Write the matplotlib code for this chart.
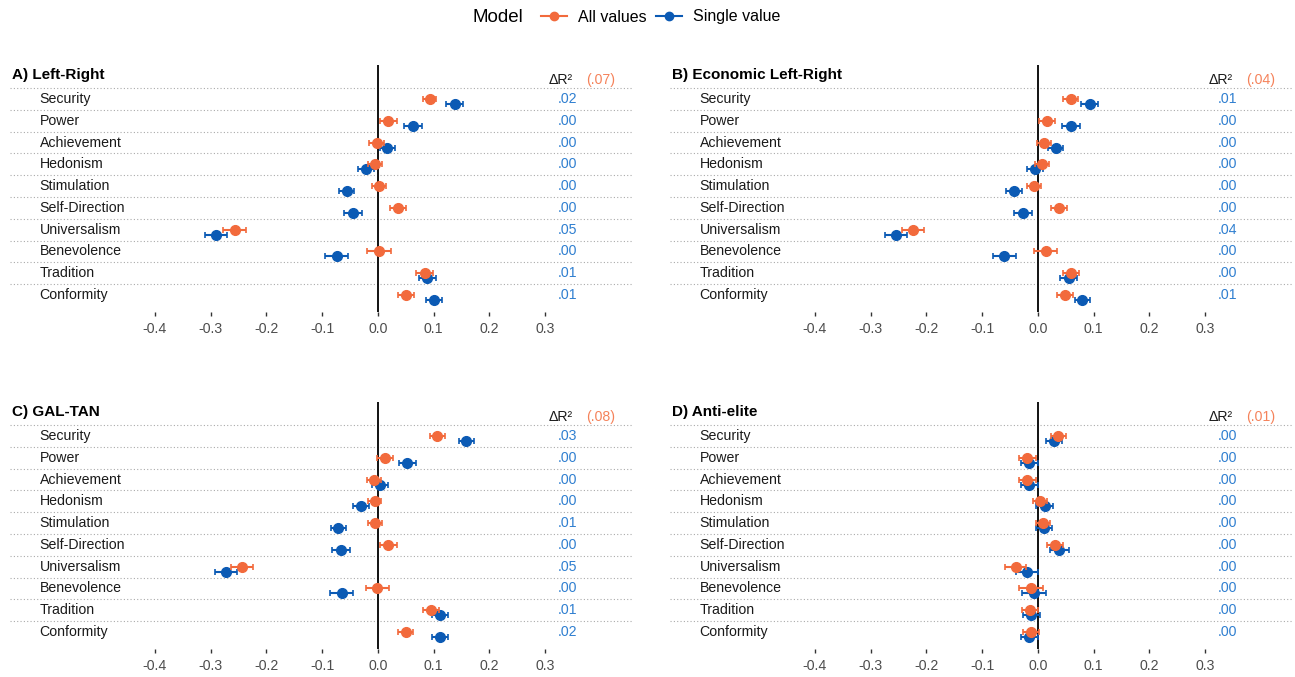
import numpy as np
import matplotlib
matplotlib.use('Agg')
import matplotlib.pyplot as plt
from matplotlib.lines import Line2D

plt.rcParams['font.family'] = ['Liberation Sans', 'DejaVu Sans']

values = ['Security', 'Power', 'Achievement', 'Hedonism', 'Stimulation',
          'Self-Direction', 'Universalism', 'Benevolence', 'Tradition', 'Conformity']

titles = ['A) Left-Right', 'B) Economic Left-Right', 'C) GAL-TAN', 'D) Anti-elite']

# coefficients, "All values" model (orange)
all_A = [0.093, 0.019, -0.002, -0.005, 0.002, 0.036, -0.257, 0.002, 0.084, 0.051]
all_B = [0.059, 0.016, 0.011, 0.007, -0.007, 0.038, -0.224, 0.014, 0.060, 0.049]
all_C = [0.107, 0.013, -0.007, -0.006, -0.005, 0.019, -0.244, -0.001, 0.095, 0.050]
all_D = [0.037, -0.019, -0.019, 0.004, 0.009, 0.031, -0.040, -0.012, -0.014, -0.012]
all_err_A = [0.012, 0.015, 0.013, 0.013, 0.013, 0.014, 0.021, 0.022, 0.015, 0.014]
all_err_B = [0.013, 0.014, 0.012, 0.013, 0.013, 0.014, 0.020, 0.021, 0.014, 0.014]
all_err_C = [0.013, 0.014, 0.013, 0.012, 0.013, 0.015, 0.020, 0.021, 0.014, 0.013]
all_err_D = [0.014, 0.015, 0.015, 0.013, 0.013, 0.015, 0.019, 0.021, 0.014, 0.014]

# coefficients, "Single value" model (blue)
single_A = [0.138, 0.063, 0.017, -0.021, -0.056, -0.045, -0.290, -0.074, 0.089, 0.101]
single_B = [0.093, 0.059, 0.032, -0.005, -0.043, -0.027, -0.255, -0.060, 0.055, 0.080]
single_C = [0.159, 0.053, 0.004, -0.030, -0.071, -0.066, -0.272, -0.065, 0.112, 0.112]
single_D = [0.029, -0.015, -0.015, 0.012, 0.011, 0.038, -0.020, -0.007, -0.012, -0.015]
single_err_A = [0.015, 0.016, 0.014, 0.014, 0.013, 0.016, 0.020, 0.020, 0.015, 0.014]
single_err_B = [0.015, 0.016, 0.014, 0.014, 0.014, 0.016, 0.020, 0.020, 0.015, 0.014]
single_err_C = [0.014, 0.015, 0.014, 0.014, 0.013, 0.016, 0.020, 0.020, 0.014, 0.014]
single_err_D = [0.015, 0.016, 0.016, 0.015, 0.014, 0.017, 0.020, 0.022, 0.015, 0.015]

# delta R2
r2_total = ['(.07)', '(.04)', '(.08)', '(.01)']
r2_A = ['.02', '.00', '.00', '.00', '.00', '.00', '.05', '.00', '.01', '.01']
r2_B = ['.01', '.00', '.00', '.00', '.00', '.00', '.04', '.00', '.00', '.01']
r2_C = ['.03', '.00', '.00', '.00', '.01', '.00', '.05', '.00', '.01', '.02']
r2_D = ['.00', '.00', '.00', '.00', '.00', '.00', '.00', '.00', '.00', '.00']

xticks = [-0.4, -0.3, -0.2, -0.1, 0.0, 0.1, 0.2, 0.3]

orange = '#F26A3C'
blue = '#0B5AB4'
blue_txt = '#2F7FD0'
orange_txt = '#F5825A'

panels = [
    (all_A, all_err_A, single_A, single_err_A, r2_A),
    (all_B, all_err_B, single_B, single_err_B, r2_B),
    (all_C, all_err_C, single_C, single_err_C, r2_C),
    (all_D, all_err_D, single_D, single_err_D, r2_D),
]

W, H = 1295, 677
fig = plt.figure(figsize=(W / 100, H / 100), dpi=100)

# axes boxes in pixels: left, top, width, height
boxes = [(10, 65, 622, 247), (670, 65, 622, 247),
         (10, 402, 622, 247), (670, 402, 622, 247)]

rows = np.arange(len(values))
for k, (box, title, (a, ae, s, se, r2)) in enumerate(zip(boxes, titles, panels)):
    l, t, w, h = box
    ax = fig.add_axes([l / W, 1 - (t + h) / H, w / W, h / H])
    for r in rows:
        ax.axhline(r - 0.5, color='#AAAAAA', linestyle=(0, (1, 2)), linewidth=0.8, zorder=0)
    ax.axvline(0, color='black', linewidth=1.3, zorder=1)
    ax.errorbar(s, rows + 0.23, xerr=se, fmt='o', color=blue, markersize=7,
                elinewidth=1.5, capsize=2, capthick=1.2, zorder=3)
    ax.errorbar(a, rows, xerr=ae, fmt='o', color=orange, markersize=7,
                elinewidth=1.5, capsize=2, capthick=1.2, zorder=4)
    for r, name, v in zip(rows, values, r2):
        ax.text(-0.607, r, name, fontsize=10.2, color='#1A1A1A', va='center', ha='left')
        ax.text(0.323, r, v, fontsize=10.2, color=blue_txt, va='center', ha='left')
    ax.text(0.307, -0.85, 'ΔR²', fontsize=10.2, color='#1A1A1A', va='center', ha='left')
    ax.text(0.374, -0.85, r2_total[k], fontsize=10.2, color=orange_txt, va='center', ha='left')
    ax.set_xlim(-0.66, 0.456)
    ax.set_ylim(9.78, -1.56)
    ax.set_yticks([])
    ax.set_xticks(xticks)
    ax.set_xticklabels(['%.1f' % x for x in xticks])
    ax.tick_params(axis='x', length=3, width=1, color='#333333', labelcolor='#4D4D4D',
                   labelsize=10.2, pad=4)
    for sp in ax.spines.values():
        sp.set_visible(False)
    ax.patch.set_alpha(0)
    fig.text((l + 2) / W, 1 - (t + 10) / H, title, fontsize=11, fontweight='bold',
             va='center', ha='left')

# legend
handles = [Line2D([0], [0], color=orange, marker='o', markersize=6, linewidth=1.5),
           Line2D([0], [0], color=blue, marker='o', markersize=6, linewidth=1.5)]
fig.text(472 / W, 1 - 17 / H, 'Model', fontsize=13.5, va='center', ha='left')
fig.legend(handles, ['All values', 'Single value'], loc='center left', ncol=2,
           bbox_to_anchor=(527 / W, 1 - 17 / H), frameon=False, fontsize=11.5,
           handlelength=1.6, columnspacing=0.6, handletextpad=0.7)

plt.savefig('out.png', dpi=100)
